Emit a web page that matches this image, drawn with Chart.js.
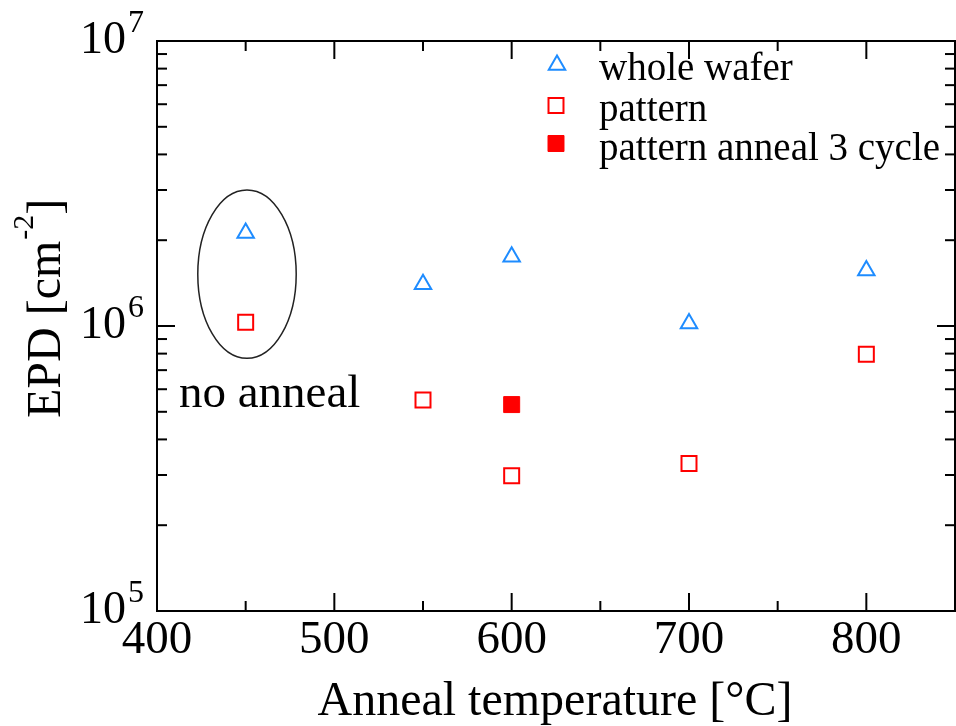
<!DOCTYPE html>
<html>
<head>
<meta charset="utf-8">
<script src="https://cdn.jsdelivr.net/npm/chart.js@4.4.1/dist/chart.umd.min.js"></script>
<style>
	html, body { margin: 0; padding: 0; background: #fff; }
	#canvas { display: block; }
</style>
</head>
<body>
<canvas id="canvas" width="956" height="726"></canvas>
<script>
// datos
const temperaturas = [450, 550, 600, 700, 800];
const wholeWafer = [2.12e6, 1.40e6, 1.75e6, 1.02e6, 1.565e6];
const pattern = [1.03e6, 5.5e5, 2.98e5, 3.29e5, 7.96e5];
const temperaturasCiclo = [600];
const patternCiclo = [5.3e5];

const ticksX = [400, 500, 600, 700, 800];
const exponentesY = [5, 6, 7];
const etiquetas = ["whole wafer", "pattern", "pattern anneal 3 cycle"];

const serif = '"Liberation Serif", "Times New Roman", serif';
const azul = "#1e8cff";
const rojo = "#ff0000";

const canvas = document.getElementById("canvas");

const puntos = (xs, ys) => xs.map((x, i) => ({ x: x, y: ys[i] }));

// marco, ticks hacia adentro, etiquetas y leyenda
const marco = {
	id: "marco",
	beforeDatasetsDraw(chart) {
		const ctx = chart.ctx;
		const sx = chart.scales.x;
		const sy = chart.scales.y;

		// elipse "no anneal"
		const x1 = sx.getPixelForValue(423);
		const x2 = sx.getPixelForValue(478.5);
		const y1 = sy.getPixelForValue(3.0e6);
		const y2 = sy.getPixelForValue(7.7e5);
		ctx.save();
		ctx.strokeStyle = "#222";
		ctx.lineWidth = 1.5;
		ctx.beginPath();
		ctx.ellipse((x1 + x2) / 2, (y1 + y2) / 2, (x2 - x1) / 2, (y2 - y1) / 2, 0, 0, Math.PI * 2);
		ctx.stroke();

		ctx.fillStyle = "#000";
		ctx.font = "47px " + serif;
		ctx.textAlign = "left";
		ctx.textBaseline = "alphabetic";
		ctx.fillText("no anneal", 179, 407);
		ctx.restore();
	},
	afterDraw(chart) {
		const ctx = chart.ctx;
		const { left, right, top, bottom } = chart.chartArea;
		const sx = chart.scales.x;
		const sy = chart.scales.y;

		ctx.save();
		ctx.strokeStyle = "#000";
		ctx.lineWidth = 2;
		ctx.strokeRect(left, top, right - left, bottom - top);

		const linea = (a, b, c, d) => {
			ctx.beginPath();
			ctx.moveTo(a, b);
			ctx.lineTo(c, d);
			ctx.stroke();
		};

		// ticks x
		for (let v = 400; v <= 850; v += 50) {
			const px = sx.getPixelForValue(v);
			if (px <= left + 1 || px >= right - 1) continue;
			const largo = v % 100 === 0 ? 18 : 10;
			linea(px, bottom, px, bottom - largo);
			linea(px, top, px, top + largo);
		}

		// ticks y (log)
		for (let e = 5; e <= 6; e++) {
			for (let m = 1; m <= 9; m++) {
				const py = sy.getPixelForValue(m * Math.pow(10, e));
				if (py >= bottom - 1 || py <= top + 1) continue;
				const largo = m === 1 ? 18 : 10;
				linea(left, py, left + largo, py);
				linea(right, py, right - largo, py);
			}
		}

		ctx.fillStyle = "#000";
		ctx.textBaseline = "alphabetic";

		// etiquetas x
		ctx.font = "47px " + serif;
		ctx.textAlign = "center";
		ticksX.forEach((v) => {
			ctx.fillText(String(v), sx.getPixelForValue(v), 653);
		});

		// etiquetas y con exponente
		exponentesY.forEach((e) => {
			const py = sy.getPixelForValue(Math.pow(10, e));
			ctx.font = "46px " + serif;
			ctx.textAlign = "right";
			ctx.fillText("10", 126, py + 12);
			ctx.font = "32px " + serif;
			ctx.textAlign = "left";
			ctx.fillText(String(e), 128, py - 9);
		});

		// titulo x
		ctx.font = "48px " + serif;
		ctx.textAlign = "center";
		ctx.fillText("Anneal temperature [\u00B0C]", 555, 715);

		// titulo y
		ctx.save();
		ctx.translate(60, 418);
		ctx.rotate(-Math.PI / 2);
		ctx.textAlign = "left";
		ctx.font = "48px " + serif;
		let pos = 0;
		ctx.fillText("EPD [cm", pos, 0);
		pos += ctx.measureText("EPD [cm").width;
		ctx.font = "30px " + serif;
		ctx.fillText("-2", pos + 1, -27);
		pos += ctx.measureText("-2").width + 1;
		ctx.font = "48px " + serif;
		ctx.fillText("]", pos, 0);
		ctx.restore();

		// leyenda
		const filas = [
			{ x: 557, y: 65, texto: 80 },
			{ x: 556, y: 105.5, texto: 121 },
			{ x: 556, y: 143.5, texto: 159.5 },
		];
		chart.data.datasets.forEach((ds, i) => {
			const f = filas[i];
			ctx.save();
			ctx.strokeStyle = ds.borderColor;
			ctx.fillStyle = ds.backgroundColor;
			ctx.lineWidth = ds.borderWidth;
			Chart.helpers.drawPoint(ctx, {
				pointStyle: ds.pointStyle,
				radius: ds.pointRadius,
				rotation: 0,
				borderWidth: ds.borderWidth,
			}, f.x, f.y);
			ctx.restore();
			ctx.fillStyle = "#000";
			ctx.font = "39px " + serif;
			ctx.textAlign = "left";
			ctx.fillText(etiquetas[i], 599, f.texto);
		});

		ctx.restore();
	},
};

const grafico = new Chart(canvas, {
	type: "scatter",
	data: {
		datasets: [
			{
				label: etiquetas[0],
				data: puntos(temperaturas, wholeWafer),
				pointStyle: "triangle",
				pointRadius: 9.5,
				borderColor: azul,
				backgroundColor: "rgba(0,0,0,0)",
				borderWidth: 2,
			},
			{
				label: etiquetas[1],
				data: puntos(temperaturas, pattern),
				pointStyle: "rect",
				pointRadius: 10.6,
				borderColor: rojo,
				backgroundColor: "rgba(0,0,0,0)",
				borderWidth: 2,
			},
			{
				label: etiquetas[2],
				data: puntos(temperaturasCiclo, patternCiclo),
				pointStyle: "rect",
				pointRadius: 11.3,
				borderColor: rojo,
				backgroundColor: rojo,
				borderWidth: 1,
			},
		],
	},
	options: {
		responsive: false,
		animation: false,
		layout: {
			autoPadding: false,
			padding: { left: 157, right: 1, top: 41, bottom: 115 },
		},
		plugins: {
			legend: { display: false },
			tooltip: { enabled: false },
		},
		scales: {
			x: {
				type: "linear",
				min: 400,
				max: 850,
				display: false,
			},
			y: {
				type: "logarithmic",
				min: 1e5,
				max: 1e7,
				display: false,
			},
		},
	},
	plugins: [marco],
});
</script>
</body>
</html>
